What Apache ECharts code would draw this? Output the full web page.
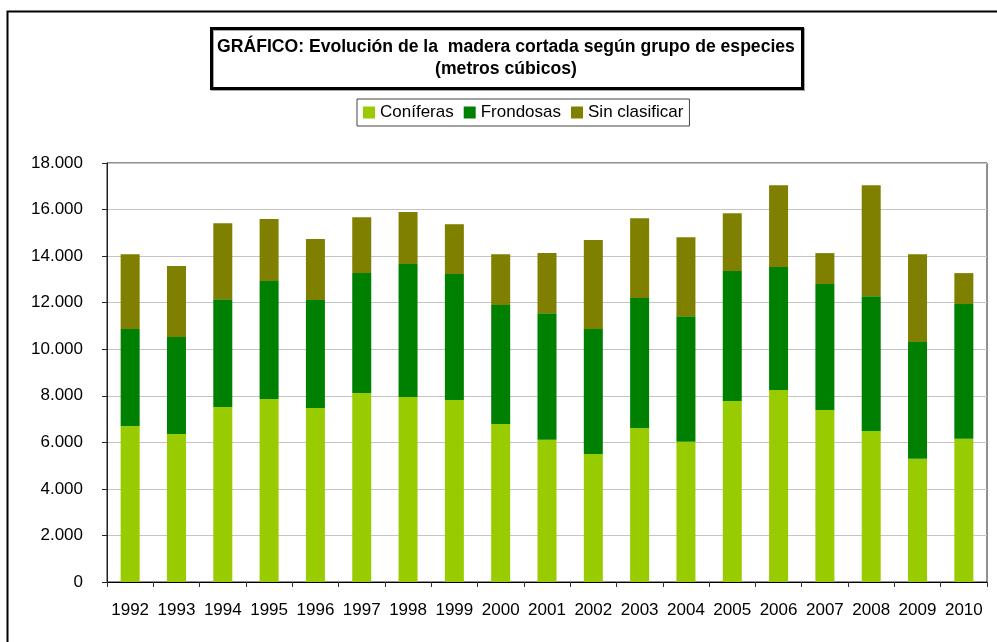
<!DOCTYPE html>
<html>
<head>
<meta charset="utf-8" />
<style>
  html, body { margin: 0; padding: 0; background: #fff; }
  #chart { width: 997px; height: 642px; }
</style>
<script src="https://cdn.jsdelivr.net/npm/echarts@6/dist/echarts.min.js"></script>
</head>
<body>
<div id="chart"></div>
<script type="text/javascript">
// años
var years = ['1992', '1993', '1994', '1995', '1996', '1997', '1998', '1999', '2000', '2001',
             '2002', '2003', '2004', '2005', '2006', '2007', '2008', '2009', '2010'];
// metros cúbicos por grupo (tramos apilados)
var coniferas = [6700, 6360, 7520, 7860, 7480, 8120, 7950, 7820, 6790, 6110,
                 5500, 6620, 6020, 7780, 8250, 7390, 6490, 5290, 6150];
var frondosas = [4170, 4160, 4630, 5070, 4630, 5150, 5710, 5410, 5110, 5440,
                 5370, 5580, 5400, 5580, 5280, 5410, 5790, 5020, 5790];
var sinClasificar = [3210, 3050, 3260, 2660, 2620, 2400, 2230, 2140, 2180, 2580,
                     3820, 3430, 3390, 2480, 3510, 1330, 4760, 3770, 1330];

var FONT = '"Liberation Sans", Arial, sans-serif';

function miles(v) {
    return String(v).replace(/\B(?=(\d{3})+(?!\d))/g, '.');
}

var chart = echarts.init(document.getElementById('chart'));

var option = {
    animation: false,
    backgroundColor: '#fff',
    textStyle: { fontFamily: FONT, color: '#000' },
    title: {
        text: 'GRÁFICO: Evolución de la  madera cortada según grupo de especies\n(metros cúbicos)',
        left: 506,
        top: 36,
        textAlign: 'center',
        padding: 0,
        textStyle: {
            fontFamily: FONT,
            fontSize: 17.6,
            fontWeight: 'bold',
            color: '#000',
            lineHeight: 22,
            align: 'center'
        }
    },
    legend: {
        data: ['Coníferas', 'Frondosas', 'Sin clasificar'],
        left: 357,
        top: 99,
        padding: [5, 6],
        itemGap: 10,
        itemWidth: 12,
        itemHeight: 12,
        icon: 'rect',
        borderColor: '#444',
        borderWidth: 1,
        textStyle: { fontFamily: FONT, fontSize: 17, color: '#000' }
    },
    grid: {
        left: 107,
        right: 10,
        top: 163,
        bottom: 60,
        show: true,
        borderColor: '#222',
        borderWidth: 1
    },
    xAxis: {
        type: 'category',
        data: years,
        axisLine: { lineStyle: { color: '#000', width: 1 } },
        axisTick: { show: true, length: 5, lineStyle: { color: '#333' } },
        axisLabel: { fontFamily: FONT, fontSize: 17, color: '#000', margin: 20, interval: 0 }
    },
    yAxis: {
        type: 'value',
        min: 0,
        max: 18000,
        interval: 2000,
        axisLine: { show: true, lineStyle: { color: '#222' } },
        axisTick: { show: true, length: 5, lineStyle: { color: '#222' } },
        axisLabel: { fontFamily: FONT, fontSize: 17, color: '#000', margin: 24, formatter: miles },
        splitLine: { show: true, lineStyle: { color: '#c4c4c4', width: 1 } }
    },
    series: [
        { name: 'Coníferas', type: 'bar', stack: 'total', barWidth: 19,
          itemStyle: { color: '#99CC00' }, data: coniferas },
        { name: 'Frondosas', type: 'bar', stack: 'total', barWidth: 19,
          itemStyle: { color: '#008000' }, data: frondosas },
        { name: 'Sin clasificar', type: 'bar', stack: 'total', barWidth: 19,
          itemStyle: { color: '#808000' }, data: sinClasificar }
    ],
    graphic: [
        // marco exterior
        { type: 'rect', left: 5, top: 9, z: -1, silent: true,
          shape: { width: 1200, height: 1000 },
          style: { fill: 'none', stroke: '#000', lineWidth: 2 } },
        // recuadro del título
        { type: 'rect', left: 210, top: 27, z: 0, silent: true,
          shape: { width: 591, height: 60 },
          style: { fill: '#fff', stroke: '#000', lineWidth: 3,
                   shadowColor: 'rgba(0,0,0,0.35)', shadowOffsetX: 1, shadowOffsetY: 1 } }
    ]
};

chart.setOption(option);
</script>
</body>
</html>
